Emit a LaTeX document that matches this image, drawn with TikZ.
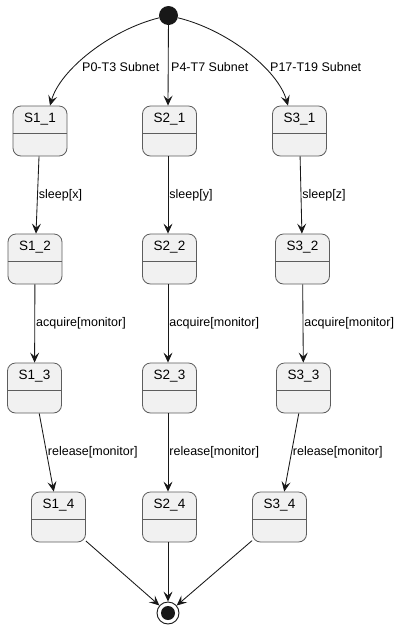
\documentclass[tikz,border=0pt]{standalone}
\usepackage{fontspec}
\setmainfont{Liberation Sans}
\usetikzlibrary{arrows.meta,calc}
\definecolor{stfill}{HTML}{F1F1F1}
\definecolor{stborder}{HTML}{5D5D5D}
\definecolor{edgecol}{HTML}{181818}
\tikzset{
  st/.style={draw=stborder, fill=stfill, rounded corners=8pt, minimum width=54pt, minimum height=50pt, line width=0.8pt, inner sep=0pt},
  sttext/.style={font=\fontsize{13.5}{14}\selectfont, inner sep=0pt},
  divider/.style={draw=stborder, line width=0.8pt},
  edge/.style={draw=edgecol, line width=0.85pt, -{Stealth[length=10pt,width=9pt,inset=4pt]}},
  lbl/.style={font=\fontsize{12.5}{13}\selectfont, inner sep=1pt, text=black, anchor=west},
}
\newcommand\mkstate[4]{%
  \node[st] (#1) at (#2,#3) {};
  \node[sttext] (#1t) at ([yshift=11.5pt]#1.center) {#4};
  \draw[divider] ([yshift=-2pt]#1.west) -- ([yshift=-2pt]#1.east);
}
\begin{document}
\begin{tikzpicture}[x=1pt,y=-1pt]
\useasboundingbox (0,0) rectangle (403,630);
\fill[white] (0,0) rectangle (403,630);

\node[circle, fill=edgecol, minimum size=19pt, inner sep=0pt] (start) at (168.5,15.5) {};

\mkstate{s11}{40}{131}{S1\_1}
\mkstate{s21}{169.5}{131}{S2\_1}
\mkstate{s31}{299.5}{131}{S3\_1}
\mkstate{s12}{35}{259}{S1\_2}
\mkstate{s22}{169.5}{259}{S2\_2}
\mkstate{s32}{302.5}{259}{S3\_2}
\mkstate{s13}{34.5}{388}{S1\_3}
\mkstate{s23}{169.5}{388}{S2\_3}
\mkstate{s33}{303.5}{388}{S3\_3}
\mkstate{s14}{58.5}{517}{S1\_4}
\mkstate{s24}{169.5}{517}{S2\_4}
\mkstate{s34}{279.5}{517}{S3\_4}

\node[circle, draw=edgecol, fill=white, line width=0.9pt, minimum size=22pt, inner sep=0pt] (endn) at (168,613) {};
\node[circle, fill=edgecol, minimum size=14pt, inner sep=0pt] (endin) at (endn.center) {};
\coordinate (mx) at (168,0);

% top transitions
\draw[edge] (start) .. controls (110,30) and (60,70) .. ([xshift=10pt]s11.north);
\draw[edge] (start) -- (mx |- s21.north);
\draw[edge] (start) .. controls (228,30) and (278,70) .. ([xshift=-11.5pt]s31.north);
\node[lbl] (l1) at (81,67) {P0-T3 Subnet};
\node[lbl] (l2) at (170,67) {P4-T7 Subnet};
\node[lbl] (l3) at (269,67) {P17-T19 Subnet};

% column 1
\draw[edge] (s11) -- node[lbl, pos=0.5] (e1) {sleep[x]} (s12);
\draw[edge] (s12) -- node[lbl, pos=0.5] (e2) {acquire[monitor]} (s13);
\draw[edge] (s13) -- node[lbl, pos=0.5] (e3) {release[monitor]} (s14);
% column 2
\draw[edge] (mx |- s21.south) -- node[lbl, pos=0.5] (e4) {sleep[y]} (mx |- s22.north);
\draw[edge] (mx |- s22.south) -- node[lbl, pos=0.5] (e5) {acquire[monitor]} (mx |- s23.north);
\draw[edge] (mx |- s23.south) -- node[lbl, pos=0.5] (e6) {release[monitor]} (mx |- s24.north);
% column 3
\draw[edge] (s31) -- node[lbl, pos=0.5] (e7) {sleep[z]} (s32);
\draw[edge] (s32) -- node[lbl, pos=0.5] (e8) {acquire[monitor]} (s33);
\draw[edge] (s33) -- node[lbl, pos=0.5] (e9) {release[monitor]} (s34);

% to final
\draw[edge] (s14) -- (endn);
\draw[edge] (mx |- s24.south) -- (endn);
\draw[edge] (s34) -- (endn);
\end{tikzpicture}
\end{document}
